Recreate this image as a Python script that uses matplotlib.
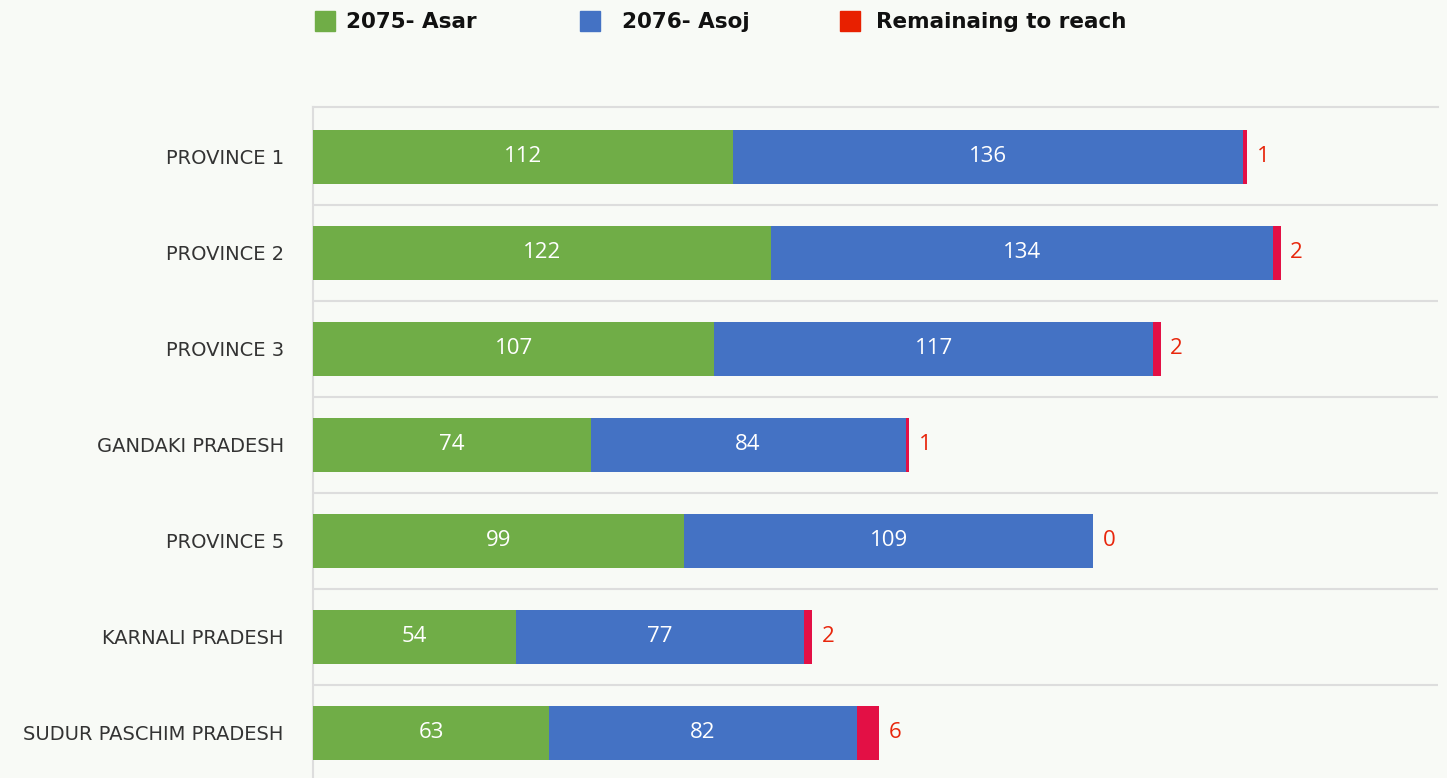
import matplotlib.pyplot as plt
from matplotlib.patches import Rectangle

plt.rcParams['font.family'] = ['Open Sans', 'DejaVu Sans']

# datos
provincias = ['PROVINCE 1', 'PROVINCE 2', 'PROVINCE 3', 'GANDAKI PRADESH',
              'PROVINCE 5', 'KARNALI PRADESH', 'SUDUR PASCHIM PRADESH']
asar_2075 = [112, 122, 107, 74, 99, 54, 63]
asoj_2076 = [136, 134, 117, 84, 109, 77, 82]
restante = [1, 2, 2, 1, 0, 2, 6]
series = ['2075- Asar', '2076- Asoj', 'Remainaing to reach']

fondo = '#f8faf6'
verde = '#70ad47'
azul = '#4472c4'
rojo = '#e31045'
rojo_txt = '#e8260c'
gris = '#dddddd'

fig = plt.figure(figsize=(14.47, 7.78), dpi=100, facecolor=fondo)
ax = fig.add_axes([313 / 1447, 0, (1438 - 313) / 1447, 1 - 107 / 778])
ax.set_facecolor(fondo)

y = list(range(len(provincias)))
izq2 = asar_2075
izq3 = [a + b for a, b in zip(asar_2075, asoj_2076)]
h = 0.56

b1 = ax.barh(y, asar_2075, height=h, color=verde, zorder=3)
b2 = ax.barh(y, asoj_2076, left=izq2, height=h, color=azul, zorder=3)
b3 = ax.barh(y, restante, left=izq3, height=h, color=rojo, zorder=3)

ax.bar_label(b1, label_type='center', color='white', fontsize=16)
ax.bar_label(b2, label_type='center', color='white', fontsize=16)
ax.bar_label(b3, labels=[str(r) for r in restante], padding=7,
             color=rojo_txt, fontsize=16)

ax.set_xlim(0, 300)
ax.set_ylim(6.47, -0.52)

# separadores
for s in range(len(provincias) - 1):
    ax.axhline(s + 0.5, color=gris, lw=1.5, zorder=1)

ax.set_yticks(y)
ax.set_yticklabels(provincias, fontsize=14, color='#333333', family='DejaVu Sans')
ax.tick_params(axis='y', length=0, pad=21)
ax.set_xticks([])
for lado in ['right', 'bottom']:
    ax.spines[lado].set_visible(False)
for lado in ['left', 'top']:
    ax.spines[lado].set_color(gris)
    ax.spines[lado].set_linewidth(1.5)

# leyenda
colores = [verde, azul, '#e82000']
xs_cuadro = [315, 580, 840]
xs_texto = [346, 622, 876]
for c, xc, xt, nom in zip(colores, xs_cuadro, xs_texto, series):
    fig.patches.append(Rectangle((xc / 1447, 1 - 31 / 778), 20 / 1447, 20 / 778,
                                 transform=fig.transFigure, color=c))
    fig.text(xt / 1447, 1 - 22 / 778, nom, fontsize=15.5, fontweight='bold',
             va='center', ha='left', color='#111111', family='DejaVu Sans')

fig.savefig('out.png', dpi=100, facecolor=fondo)
